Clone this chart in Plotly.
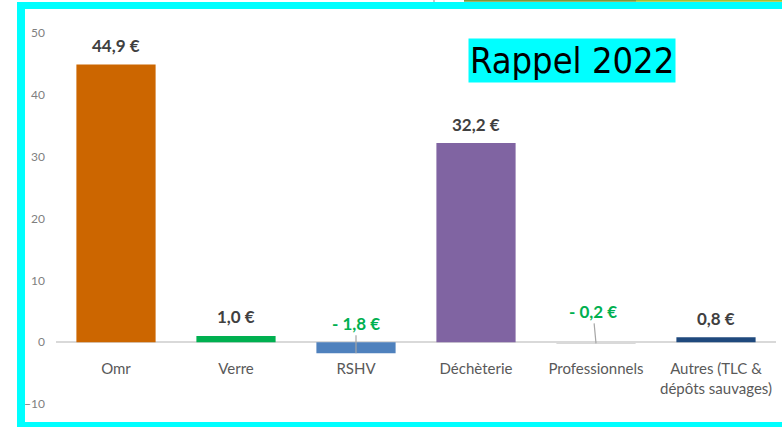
import plotly.graph_objects as go

categories = ["Omr", "Verre", "RSHV", "Déchèterie", "Professionnels", "Autres (TLC &<br>dépôts sauvages)"]
values = [44.9, 1.0, -1.8, 32.2, -0.2, 0.8]
value_labels = ["44,9 €", "1,0 €", "- 1,8 €", "32,2 €", "- 0,2 €", "0,8 €"]
bar_colors = ["#CC6600", "#00B050", "#4F81BD", "#8064A2", "#D9D9D9", "#1F497D"]
y_ticks = [-10, 0, 10, 20, 30, 40, 50]

W, H = 782, 427
L, R, T, B = 56, 6, 33, 23
pw, ph = W - L - R, H - T - B
def px(x): return (x - L) / pw
def py(y): return (H - B - y) / ph

fig = go.Figure()
fig.add_trace(go.Bar(
    x=list(range(len(categories))), y=values,
    marker=dict(color=bar_colors, line=dict(width=0)),
    width=0.66, hoverinfo="skip",
))

# value labels
for i, (v, lab) in enumerate(zip(values, value_labels)):
    if v >= 0:
        fig.add_annotation(x=i, y=v, xref="x", yref="y", text=f"<b>{lab}</b>",
                           showarrow=False, yanchor="middle", yshift=19,
                           font=dict(family="Lato", size=17, color="#404040"))
    else:
        ay = -30 if v < -1 else -32
        ax = 0 if v < -1 else -3
        fig.add_annotation(x=i, y=v, xref="x", yref="y", text=f"<b>{lab}</b>",
                           showarrow=True, arrowhead=0, arrowwidth=1.2,
                           arrowcolor="#A6A6A6", ax=ax, ay=ay,
                           font=dict(family="Lato", size=17, color="#00B050"))

# "Rappel 2022" box
fig.add_annotation(x=px(572), y=py(60), xref="paper", yref="paper", text="Rappel 2022",
                   xanchor="center", yanchor="middle",
                   showarrow=False, bgcolor="#00FFFF", borderpad=1,
                   font=dict(family="DejaVu Sans Condensed, DejaVu Sans", size=36, color="#000000"))

# cyan frame (filled bands)
def band(x0, x1, y0, y1, color):
    fig.add_shape(type="rect", xref="paper", yref="paper",
                  x0=px(x0), x1=px(x1), y0=py(y1), y1=py(y0),
                  line=dict(width=0), fillcolor=color, layer="above")

band(17, 25, 2, 427, "#00FFFF")     # left
band(17, 782, 2, 9, "#00FFFF")      # top
band(17, 782, 422, 427, "#00FFFF")  # bottom
# strips at top edge
band(433, 435, 0, 2, "#C8C8C8")
band(464, 636, 0, 1.8, "#7F9A3A")
band(636, 782, 0, 1.8, "#A8C030")

fig.update_layout(
    width=W, height=H, margin=dict(l=L, r=R, t=T, b=B),
    paper_bgcolor="white", plot_bgcolor="white", showlegend=False,
    xaxis=dict(range=[-0.5, len(categories) - 0.5], tickmode="array",
               tickvals=list(range(len(categories))), ticktext=categories,
               anchor="free", position=(0 - (-10)) / 60, showline=False, showgrid=False,
               zeroline=False, ticks="", ticklabelstandoff=16,
               tickfont=dict(family="Lato", size=15, color="#595959")),
    yaxis=dict(range=[-10, 50], tickvals=y_ticks, showgrid=False, zeroline=True,
               zerolinecolor="#D9D9D9", zerolinewidth=1.5, showline=False, ticks="",
               ticklabelstandoff=10,
               tickfont=dict(family="Lato", size=12, color="#7F7F7F")),
)

fig.write_html("out.html", config={"displayModeBar": False},
               post_script="document.body.style.margin='0';document.body.style.overflow='hidden';")
